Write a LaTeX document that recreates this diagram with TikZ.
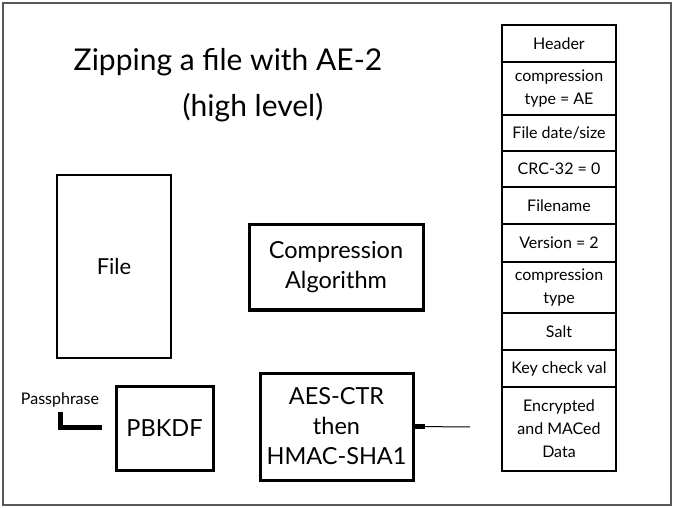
\documentclass[tikz,border=0pt]{standalone}
\usepackage{fontspec}
\setmainfont{Lato}
\usetikzlibrary{positioning}

\begin{document}
\begin{tikzpicture}[x=1pt,y=-1pt]
  \tikzset{
    field/.style={draw,line width=1.5pt,minimum width=114pt,inner sep=0pt,outer sep=0pt,align=center,font=\fontsize{16}{23}\selectfont},
    block/.style={draw,line width=3pt,inner sep=0pt,align=center,font=\fontsize{23.5}{30}\selectfont},
  }
  \useasboundingbox (0,0) rectangle (673,508);
  \draw[black!65,line width=2pt] (3,3) rectangle (671,505);

  \node[font=\fontsize{30}{36}\selectfont] (title) at (228,62) {Zipping a file with AE-2};
  \node[font=\fontsize{30}{36}\selectfont] (subtitle) at (253,108) {(high level)};

  \node[draw,line width=1.5pt,minimum width=114pt,minimum height=183pt,font=\fontsize{22}{27}\selectfont] (file) at (114,266.5) {File};
  \node[block,minimum width=174pt,minimum height=85pt] (comp) at (336,267.5) {Compression\\Algorithm};
  \node[block,minimum width=97pt,minimum height=84pt] (kdf) at (164.5,428) {PBKDF};
  \node[block,minimum width=153pt,minimum height=107pt] (aes) at (336.5,426.5) {AES-CTR\\then\\HMAC-SHA1};

  \node[font=\fontsize{16}{18}\selectfont] (pass) at (60,400) {Passphrase};
  \coordinate (passdown) at (60,412);
  \coordinate (kdfin) at (102,427);
  \coordinate (aesout) at (470,427);
  \draw[line width=5pt] (passdown) |- (kdfin);
  \draw[line width=1pt] (aes.east) -- (aesout);
  \draw[line width=5pt] (aes.east) -- ++(10,0);

  % zip entry layout
  \node[field,minimum height=37pt,anchor=north] (hdr) at (559,25) {Header};
  \node[field,minimum height=53pt,below=0pt of hdr] (ctype) {compression\\type = AE};
  \node[field,minimum height=36pt,below=0pt of ctype] (date) {File date/size};
  \node[field,minimum height=36pt,below=0pt of date] (crc) {CRC-32 = 0};
  \node[field,minimum height=37pt,below=0pt of crc] (fname) {Filename};
  \node[field,minimum height=38pt,below=0pt of fname] (ver) {Version = 2};
  \node[field,minimum height=51pt,below=0pt of ver] (ctype2) {compression\\type};
  \node[field,minimum height=37pt,below=0pt of ctype2] (salt) {Salt};
  \node[field,minimum height=37pt,below=0pt of salt] (kcv) {Key check val};
  \node[field,minimum height=84pt,below=0pt of kcv] (data) {Encrypted\\and MACed\\Data};
\end{tikzpicture}
\end{document}
